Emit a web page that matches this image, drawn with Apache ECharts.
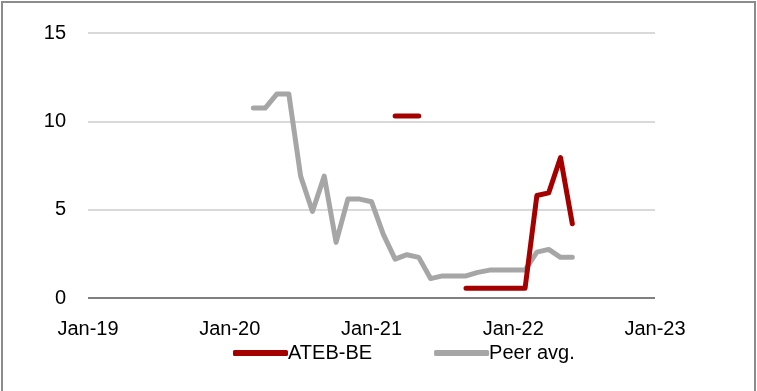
<!DOCTYPE html>
<html>
<head>
<meta charset="utf-8">
<script src="https://cdn.jsdelivr.net/npm/echarts@6/dist/echarts.min.js"></script>
<style>
  html, body { margin: 0; padding: 0; background: #fff; }
  #frame {
    position: absolute; left: 1px; top: 1px; width: 751px; height: 390px;
    border-left: 2px solid #8c8c8c; border-top: 2px solid #8c8c8c; border-right: 2px solid #8c8c8c;
  }
  #chart { position: absolute; left: 0; top: 0; width: 757px; height: 391px; }
</style>
</head>
<body>
<div id="frame"></div>
<div id="chart"></div>
<script>
// monthly categories Jan-19 .. Jan-23
const months = ["Jan","Feb","Mar","Apr","May","Jun","Jul","Aug","Sep","Oct","Nov","Dec"];
const categories = [];
for (let y = 19; y <= 23; y++) {
  for (let m = 0; m < 12; m++) {
    if (y === 23 && m > 0) break;
    categories.push(months[m] + "-" + y);
  }
}

// ATEB-BE (missing months = gaps)
const atebMonths = ["Mar-21","Apr-21","May-21","Sep-21","Oct-21","Nov-21","Dec-21","Jan-22","Feb-22","Mar-22","Apr-22","May-22","Jun-22"];
const atebValues = [10.3, 10.3, 10.3, 0.55, 0.55, 0.55, 0.55, 0.55, 0.55, 5.8, 5.95, 7.95, 4.2];

// Peer average
const peerMonths = ["Mar-20","Apr-20","May-20","Jun-20","Jul-20","Aug-20","Sep-20","Oct-20","Nov-20","Dec-20",
  "Jan-21","Feb-21","Mar-21","Apr-21","May-21","Jun-21","Jul-21","Aug-21","Sep-21","Oct-21","Nov-21","Dec-21",
  "Jan-22","Feb-22","Mar-22","Apr-22","May-22","Jun-22"];
const peerValues = [10.75, 10.75, 11.55, 11.55, 6.9, 4.9, 6.9, 3.15, 5.6, 5.6,
  5.45, 3.6, 2.2, 2.45, 2.3, 1.1, 1.25, 1.25, 1.25, 1.45, 1.58, 1.58,
  1.58, 1.58, 2.6, 2.75, 2.3, 2.3];

const yTicks = [0, 5, 10, 15];

const toSeries = (keys, vals) => categories.map(c => {
  const i = keys.indexOf(c);
  return i >= 0 ? vals[i] : null;
});

const font = "'Liberation Sans', Arial, sans-serif";
const myChart = echarts.init(document.getElementById("chart"));
const option = {
  animation: false,
  grid: { left: 88, right: 102, top: 33, bottom: 93, containLabel: false },
  legend: {
    top: 338,
    left: 228,
    itemWidth: 55,
    itemHeight: 6,
    itemGap: 62,
    textStyle: { fontFamily: font, fontSize: 20, color: "#000", padding: [0, 0, 0, -5] },
    data: [
      { name: "ATEB-BE", icon: "roundRect" },
      { name: "Peer avg.", icon: "roundRect" }
    ]
  },
  xAxis: {
    type: "category",
    data: categories,
    boundaryGap: false,
    axisLine: { show: false },
    axisTick: { show: false },
    axisLabel: {
      interval: 11,
      margin: 21,
      fontFamily: font,
      fontSize: 20,
      color: "#000"
    },
    splitLine: { show: false }
  },
  yAxis: {
    type: "value",
    min: yTicks[0],
    max: yTicks[yTicks.length - 1],
    interval: 5,
    axisLine: { show: false },
    axisTick: { show: false },
    axisLabel: { margin: 22, fontFamily: font, fontSize: 20, color: "#000" },
    splitLine: {
      lineStyle: {
        color: ["#808080", "#d9d9d9", "#d9d9d9", "#d9d9d9"],
        width: 2
      }
    }
  },
  series: [
    {
      name: "ATEB-BE",
      type: "line",
      data: toSeries(atebMonths, atebValues),
      showSymbol: false,
      connectNulls: false,
      color: "#a50000",
      lineStyle: { width: 5, cap: "round", join: "round" },
      z: 3
    },
    {
      name: "Peer avg.",
      type: "line",
      data: toSeries(peerMonths, peerValues),
      showSymbol: false,
      color: "#a6a6a6",
      lineStyle: { width: 5, cap: "round", join: "round" },
      z: 2
    }
  ]
};
myChart.setOption(option);
</script>
</body>
</html>
